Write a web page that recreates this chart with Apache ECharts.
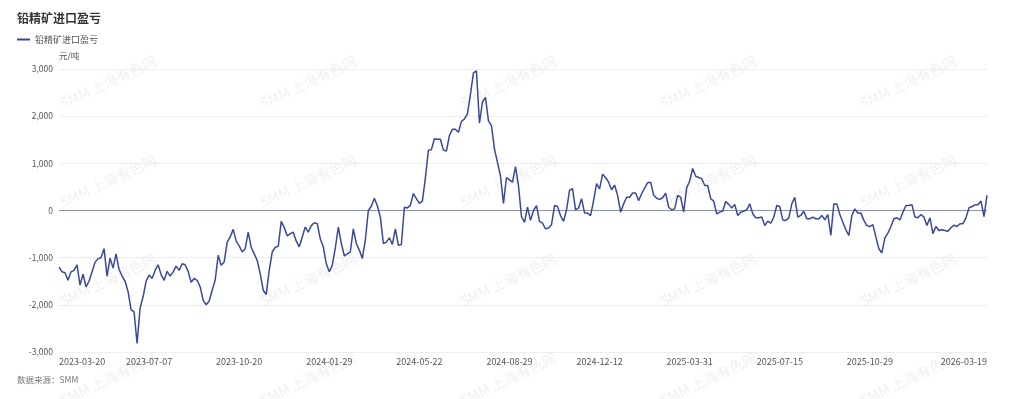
<!DOCTYPE html>
<html>
<head>
<meta charset="utf-8">
<script src="https://cdn.jsdelivr.net/npm/echarts@6/dist/echarts.min.js"></script>
<style>
html,body{margin:0;padding:0;background:#fff;}
#chart{width:1024px;height:399px;}
</style>
</head>
<body>
<div id="chart"></div>
<script>
const chartTitle = '铅精矿进口盈亏';
const seriesName = '铅精矿进口盈亏';
const unitName = '元/吨';
const sourceText = '数据来源：SMM';
const watermarkText = 'SMM 上海有色网';

// tick labels on the time axis (one every 30 points, last one at the final point)
const tickLabels = ['2023-03-20','2023-07-07','2023-10-20','2024-01-29','2024-05-22','2024-08-29','2024-12-12','2025-03-31','2025-07-15','2025-10-29','2026-03-19'];
const pointsPerTick = 30;

// 元/吨
const values = [
-1200,-1300,-1320,-1480,-1300,-1270,-1150,-1580,-1350,-1620,
-1500,-1300,-1100,-1020,-1000,-810,-1390,-1010,-1220,-920,
-1250,-1390,-1500,-1720,-2100,-2150,-2820,-2070,-1830,-1500,
-1370,-1440,-1270,-1150,-1360,-1480,-1290,-1390,-1300,-1180,
-1270,-1130,-1150,-1290,-1520,-1440,-1480,-1620,-1900,-2000,
-1920,-1690,-1480,-950,-1160,-1090,-670,-560,-400,-650,
-750,-880,-810,-460,-780,-920,-1060,-1340,-1690,-1780,
-1270,-880,-780,-760,-230,-360,-540,-490,-460,-650,
-770,-560,-350,-460,-320,-260,-280,-600,-770,-1130,
-1300,-1160,-800,-350,-700,-960,-920,-880,-390,-700,
-840,-1020,-630,0,90,260,100,-140,-700,-670,
-580,-720,-390,-740,-720,70,55,110,360,250,
150,200,690,1280,1290,1520,1510,1510,1280,1260,
1590,1720,1720,1660,1890,1940,2050,2460,2920,2960,
1850,2300,2400,1900,1800,1300,1020,730,150,700,
650,600,930,520,-130,-250,70,-210,0,105,
-230,-270,-390,-370,-300,105,85,-110,-230,15,
430,460,15,55,250,-55,-55,-110,210,570,
460,770,700,600,440,540,320,-35,140,280,
280,370,370,210,355,475,590,600,330,260,
235,270,370,70,15,35,320,280,-35,480,
625,890,725,700,675,530,530,250,200,-70,
-35,-15,190,130,55,130,-105,-35,-15,15,
140,-70,-155,-155,-140,-320,-225,-270,-140,105,
85,-200,-210,-155,140,280,-140,-105,-15,-175,
-175,-140,-175,-175,-105,-200,-85,-530,140,140,
-85,-250,-410,-530,-105,35,-55,-55,-210,-320,
-340,-300,-565,-810,-900,-580,-480,-340,-175,-155,
-200,-35,105,105,125,-140,-155,-85,-140,-320,
-155,-490,-340,-425,-410,-425,-440,-365,-310,-340,
-280,-280,-155,55,85,120,120,200,-130,320
];

const lastIndex = values.length - 1;
const tickPositions = tickLabels.map((_, j) => j === tickLabels.length - 1 ? lastIndex : j * pointsPerTick);
const seriesData = values.map((v, i) => [i, v]);

const FONT = "'Noto Sans CJK SC', 'Noto Sans', sans-serif";
const LINE_COLOR = '#3a4898';

// watermark tiles
const watermarks = [];
for (let r = 0; r < 4; r++) {
  for (let c = 0; c < 5; c++) {
    watermarks.push({
      type: 'text',
      x: 108 + c * 200,
      y: 82 + r * 99,
      rotation: 25 * Math.PI / 180,
      silent: true,
      z: 0,
      style: {
        text: watermarkText,
        fill: 'rgba(0,0,0,0.065)',
        font: '14px ' + FONT,
        align: 'center',
        verticalAlign: 'middle'
      }
    });
  }
}

const chart = echarts.init(document.getElementById('chart'), null, {renderer: 'canvas'});
chart.setOption({
  backgroundColor: '#fff',
  animation: false,
  textStyle: {fontFamily: FONT},
  title: {
    text: chartTitle,
    left: 17,
    top: 12,
    padding: 0,
    textStyle: {fontSize: 12, fontWeight: 'bold', color: '#333', fontFamily: FONT}
  },
  legend: {
    left: 17,
    top: 35,
    padding: 0,
    icon: 'rect',
    itemWidth: 13,
    itemHeight: 2,
    itemGap: 10,
    textStyle: {fontSize: 9, color: '#555', fontFamily: FONT, padding: [0, 0, 0, 0]},
    data: [seriesName]
  },
  graphic: watermarks.concat([{
    type: 'text',
    left: 17,
    top: 376,
    silent: true,
    style: {text: sourceText, fill: '#777', font: '8.5px ' + FONT}
  }]),
  grid: {left: 59, right: 37, top: 69, bottom: 47, containLabel: false},
  xAxis: {
    type: 'value',
    min: 0,
    max: lastIndex,
    axisLine: {show: false},
    axisTick: {show: false},
    splitLine: {show: false},
    axisLabel: {
      customValues: tickPositions,
      formatter: (v) => {
        const j = tickPositions.indexOf(v);
        return j >= 0 ? tickLabels[j] : '';
      },
      alignMinLabel: 'left',
      alignMaxLabel: 'right',
      fontSize: 9,
      color: '#555',
      margin: 5,
      fontFamily: FONT
    }
  },
  yAxis: {
    type: 'value',
    name: unitName,
    nameLocation: 'end',
    nameGap: 9,
    nameTextStyle: {fontSize: 8.5, color: '#555', align: 'left', fontFamily: FONT},
    min: -3000,
    max: 3000,
    interval: 1000,
    axisLine: {show: false},
    axisTick: {show: false},
    axisLabel: {fontSize: 8.5, color: '#555', margin: 6, fontFamily: FONT},
    splitLine: {lineStyle: {color: '#eceef2', width: 1}}
  },
  series: [{
    name: seriesName,
    type: 'line',
    data: seriesData,
    symbol: 'none',
    lineStyle: {color: LINE_COLOR, width: 1.5},
    itemStyle: {color: LINE_COLOR},
    z: 3,
    markLine: {
      silent: true,
      symbol: 'none',
      label: {show: false},
      lineStyle: {color: '#8d93a6', type: 'solid', width: 1},
      data: [{yAxis: 0}],
      z: 2
    }
  }]
});
</script>
</body>
</html>
